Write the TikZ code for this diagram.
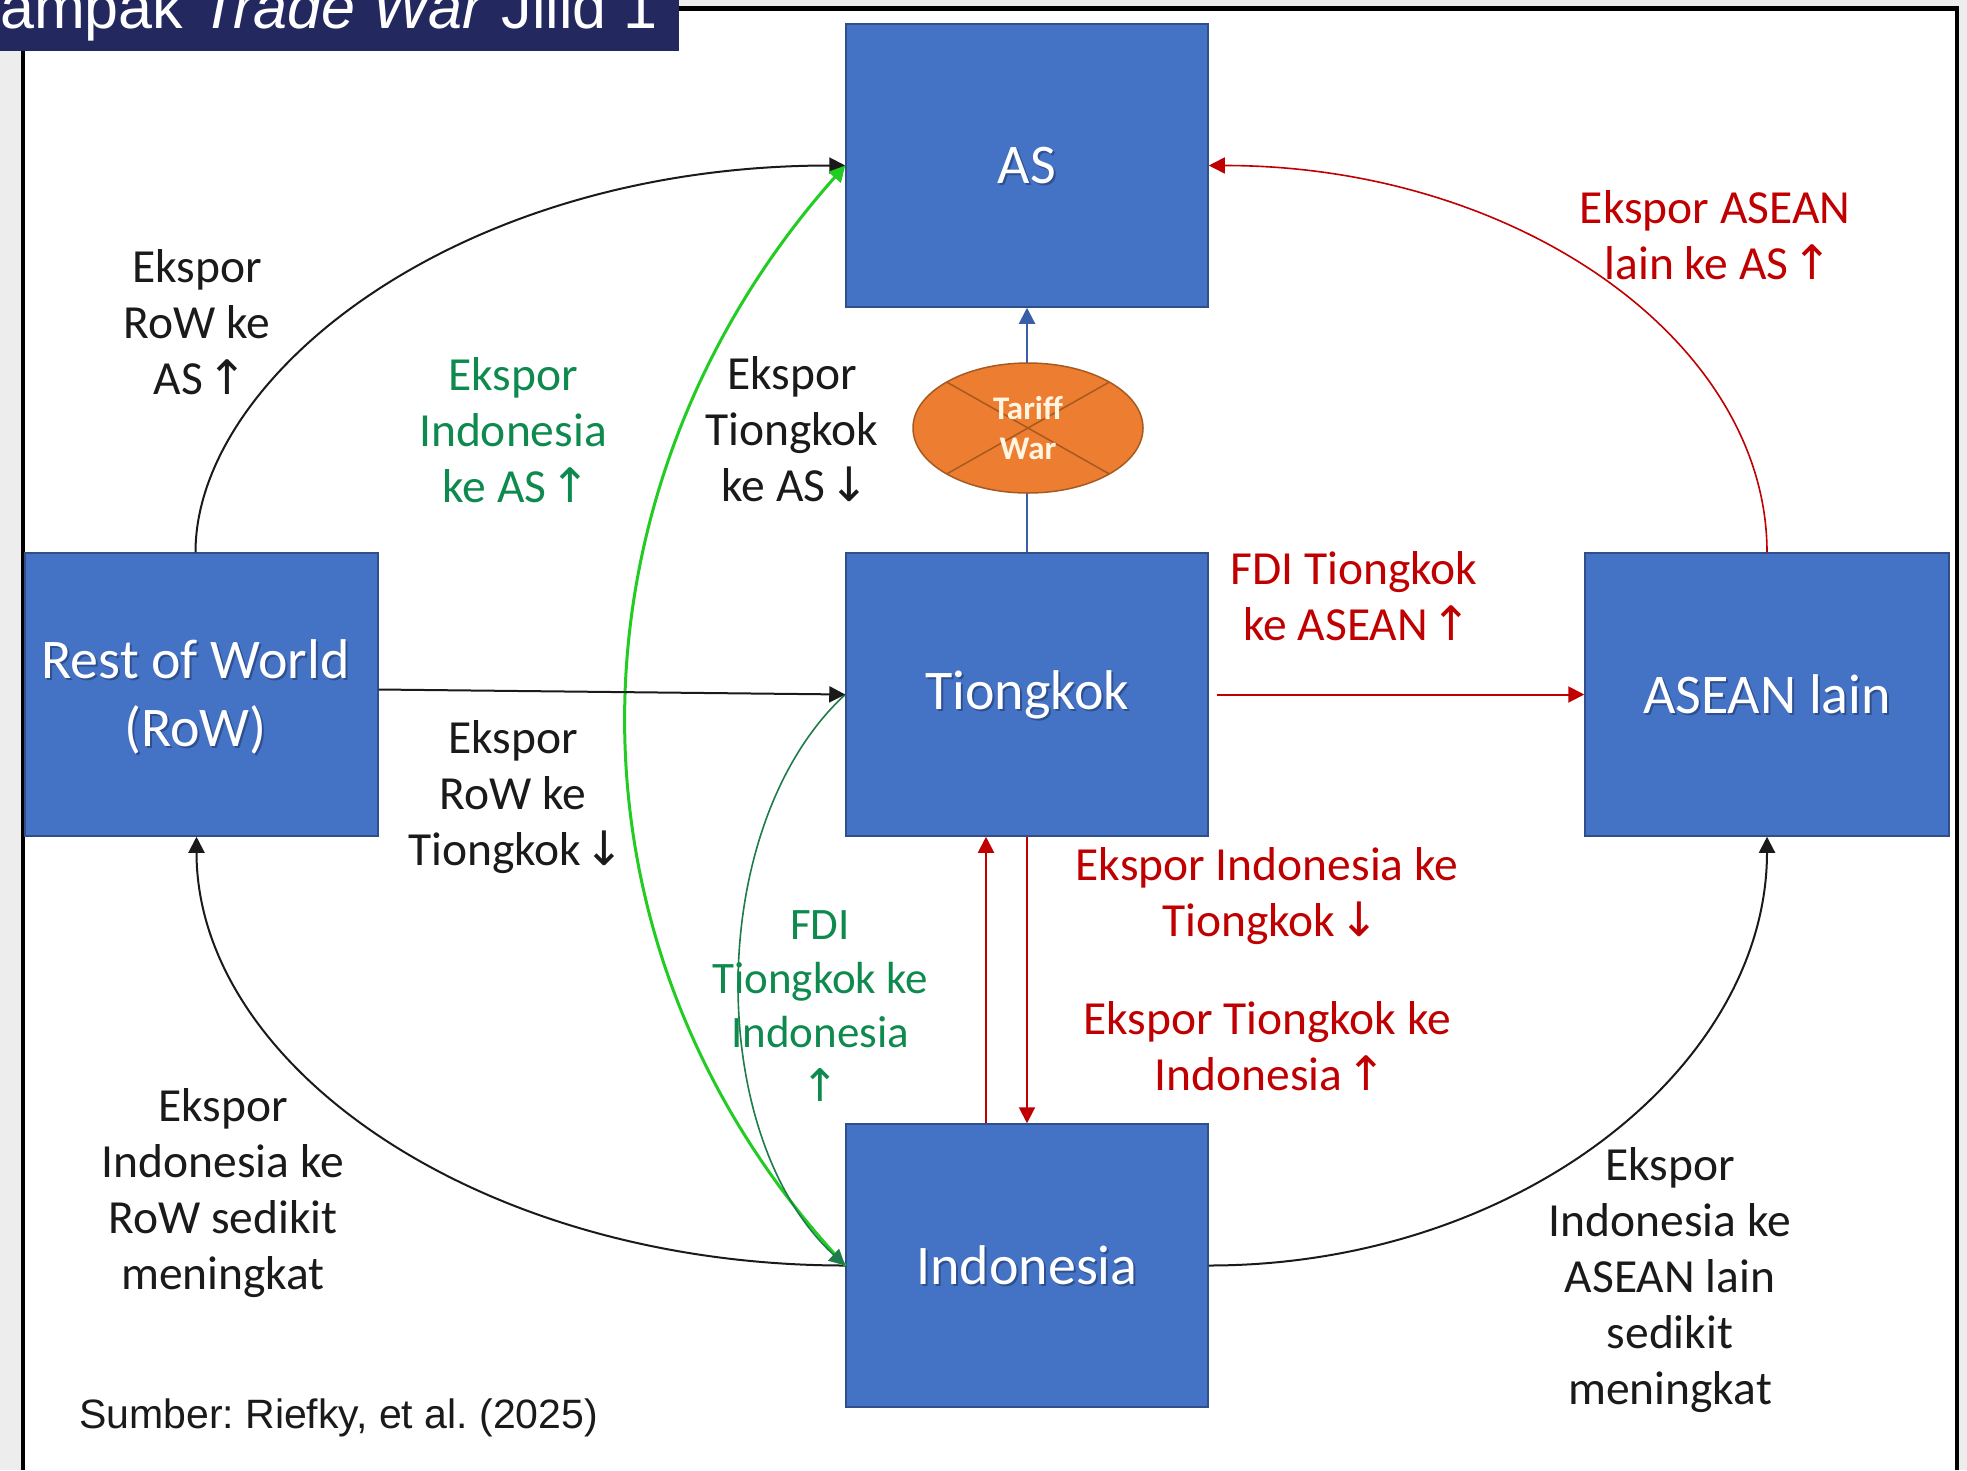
\documentclass[tikz,border=0pt]{standalone}
\usepackage{fontspec}
\setmainfont{Carlito}
\newfontfamily\arialf{Liberation Sans}
\newfontfamily\symf{DejaVu Sans}
\usetikzlibrary{arrows.meta,shapes.geometric}
\frenchspacing
\definecolor{boxblue}{HTML}{4472C4}
\definecolor{boxedge}{HTML}{2F4F8A}
\definecolor{navy}{HTML}{23285E}
\definecolor{sidegray}{HTML}{EDEDED}
\definecolor{txtblack}{HTML}{1A1A1A}
\definecolor{txtgreen}{HTML}{0F8A4F}
\definecolor{txtred}{HTML}{C00000}
\definecolor{lnred}{HTML}{C00000}
\definecolor{lngreen}{HTML}{22CC22}
\definecolor{lndkgreen}{HTML}{1E7B4A}
\definecolor{lnblue}{HTML}{3A5FAA}
\definecolor{tworange}{HTML}{ED7D31}
\definecolor{twedge}{HTML}{A65A1F}
\definecolor{twtext}{HTML}{FFF5E0}
\definecolor{shadowblue}{HTML}{1C3566}
\newcommand{\upar}{\makebox[0.55em][c]{\symf ↑}}
\newcommand{\dnar}{\makebox[0.55em][c]{\symf ↓}}
\begin{document}
\begin{tikzpicture}[x=1pt,y=-1pt,
  box/.style={rectangle, draw=boxedge, line width=1.5pt, fill=boxblue,
    minimum width=362pt, minimum height=283pt, inner sep=0pt},
  boxtxt/.style={inner sep=0pt, text=white, font=\fontsize{56}{68}\selectfont, align=center},
  boxshadow/.style={boxtxt, text=shadowblue, opacity=0.55},
  lbl/.style={inner sep=0pt, align=center, font=\fontsize{47.5}{56}\selectfont},
  klbl/.style={lbl, text=txtblack},
  glbl/.style={lbl, text=txtgreen},
  rlbl/.style={lbl, text=txtred},
  tip/.style={-{Triangle[length=16pt,width=16pt]}},
  kconn/.style={tip, draw=txtblack, line width=2pt},
  rconn/.style={tip, draw=lnred, line width=2pt},
  gconn/.style={tip, draw=lngreen, line width=3pt},
  dgconn/.style={tip, draw=lndkgreen, line width=1.6pt},
  bconn/.style={tip, draw=lnblue, line width=2pt},
]
\useasboundingbox (0,0) rectangle (1967,1470);
% background
\fill[white] (0,0) rectangle (1967,1470);
\fill[sidegray] (0,0) rectangle (21,1470);
\fill[sidegray] (1959,0) rectangle (1967,1470);
\fill[sidegray] (0,0) rectangle (1967,6);
\draw[line width=4.5pt] (23,40) -- (23,1470);
\draw[line width=4.5pt] (1957,9) -- (1957,1470);
\draw[line width=4.5pt] (600,8.5) -- (1959,8.5);
% title banner
\fill[navy] (0,0) rectangle (679,51);
\begin{scope}
\clip (0,0) rectangle (679,51);
\node[anchor=base west, inner sep=0pt, text=white, font=\arialf\fontsize{61}{64}\selectfont] (title) at (-44,28) {Dampak \textit{Trade War} Jilid 1};
\end{scope}

% boxes
\node[box] (AS) at (1027,165.5) {};
\node[box] (Tiong) at (1027,694.5) {};
\node[box] (Indo) at (1027,1265.5) {};
\node[box, minimum width=353pt] (RoW) at (201.5,694.5) {};
\node[box, minimum width=364pt] (ASEAN) at (1767,694.5) {};
% box texts (with soft shadow)
\foreach \n/\t in {AS/AS, Tiong/Tiongkok, Indo/Indonesia, ASEAN/ASEAN lain}{
  \node[boxshadow] at ([xshift=2pt,yshift=-2pt]\n.center) {\t};
  \node[boxtxt] (\n-txt) at (\n.center) {\t};
}
\node[boxshadow] at ([xshift=-4pt,yshift=-4pt]RoW.center) {Rest of World\\(RoW)};
\node[boxtxt] (RoW-txt) at ([xshift=-6pt,yshift=-2pt]RoW.center) {Rest of World\\(RoW)};

% connectors
\draw[bconn] (Tiong.north) -- (AS.south);
\node[ellipse, fill=tworange, draw=twedge, line width=1.5pt, minimum width=230pt, minimum height=130pt, inner sep=0pt,
  path picture={\draw[twedge, line width=1.5pt] (path picture bounding box.north west) -- (path picture bounding box.south east)
  (path picture bounding box.north east) -- (path picture bounding box.south west);},
  text=twtext, font=\bfseries\fontsize{33}{40}\selectfont, align=center] (tw) at (1028,428) {Tariff\\War};

\draw[kconn] ([xshift=-6pt]RoW.north) .. controls +(0,-175) and +(-390,0) .. (AS.west);
\draw[kconn] (Indo.west) .. controls +(-365,0) and +(0,230) .. ([xshift=-5pt]RoW.south);
\draw[kconn] (Indo.east) .. controls +(310,0) and +(0,230) .. (ASEAN.south);
\draw[rconn, line width=1.6pt] (ASEAN.north) .. controls +(0,-210) and +(310,0) .. (AS.east);
\draw[gconn] (Indo.west) .. controls +(-300,-320) and +(-285,320) .. (AS.west);
\draw[dgconn] (Tiong.west) .. controls +(-141,130) and +(-141,-130) .. (Indo.west);
\draw[kconn] ([yshift=5pt]RoW.east) -- (Tiong.west);
\draw[rconn] ([xshift=8pt]Tiong.east) -- (ASEAN.west);
\draw[rconn] ([xshift=-41pt]Indo.north) -- ([xshift=-41pt]Tiong.south);
\draw[rconn] (Tiong.south) -- (Indo.north);

% labels
\node[klbl] (l1) at (197,322) {Ekspor\\RoW ke\\AS \upar};
\node[glbl] (l2) at (513,430) {Ekspor\\Indonesia\\ke AS \upar};
\node[klbl] (l3) at (792,429) {Ekspor\\Tiongkok\\ke AS \dnar};
\node[rlbl] (l4) at (1715,235) {Ekspor ASEAN\\lain ke AS \upar};
\node[rlbl] (l5) at (1354,596) {FDI Tiongkok\\ke ASEAN \upar};
\node[klbl] (l6) at (513,797) {Ekspor\\RoW ke\\Tiongkok \dnar};
\node[glbl, font=\fontsize{45}{54}\selectfont] (l7) at (820,1006) {FDI\\Tiongkok ke\\Indonesia\\\upar};
\node[rlbl] (l8) at (1267,896) {Ekspor Indonesia ke\\Tiongkok \dnar};
\node[rlbl] (l9) at (1267,1046) {Ekspor Tiongkok ke\\Indonesia \upar};
\node[klbl] (l10) at (223,1193) {Ekspor\\Indonesia ke\\RoW sedikit\\meningkat};
\node[klbl] (l11) at (1670,1280) {Ekspor\\Indonesia ke\\ASEAN lain\\sedikit\\meningkat};
\node[anchor=west, inner sep=0pt, text=txtblack, font=\arialf\fontsize{41}{48}\selectfont] (src) at (79,1418) {Sumber: Riefky, et al. (2025)};
\end{tikzpicture}
\end{document}
